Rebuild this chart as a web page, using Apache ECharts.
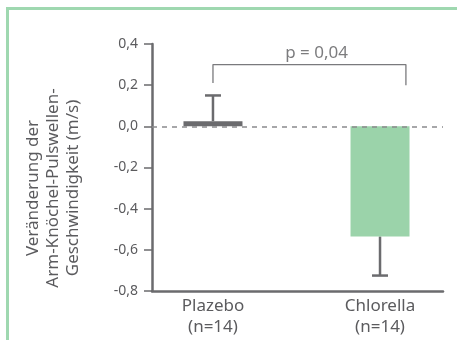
<!DOCTYPE html>
<html>
<head>
<meta charset="utf-8">
<script src="https://cdn.jsdelivr.net/npm/echarts@6/dist/echarts.min.js"></script>
<style>
html,body{margin:0;padding:0;background:#fff;}
#c{width:457px;height:340px;}
</style>
</head>
<body>
<div id="c"></div>
<script>
const categories = ['Plazebo\n(n=14)', 'Chlorella\n(n=14)'];
const categoryPositions = [1, 2];
const meanValues = [0.025, -0.535];
const errorEnds = [0.15, -0.725];
const barColors = ['#6b6b6e', '#9bd3aa'];
const yTicks = [-0.8, -0.6, -0.4, -0.2, 0.0, 0.2, 0.4];
const bracket = [[1, 0.21], [1, 0.3], [2.155, 0.3], [2.155, 0.2]];
const pLabel = 'p = 0,04';
const pLabelPos = [1.62, 0.3];

const FONT = 'Noto Sans';
const TXT = '#5b5b5e';
const AX = '#6b6b6e';

const chart = echarts.init(document.getElementById('c'));
chart.setOption({
  animation: false,
  backgroundColor: '#fff',
  grid: {left: 152, right: 14, top: 44, bottom: 49},
  xAxis: {
    type: 'value', min: 0.635, max: 2.377,
    splitLine: {show: false},
    axisLine: {show: true, onZero: false, lineStyle: {color: AX, width: 2.5}},
    axisTick: {show: false},
    axisLabel: {
      customValues: categoryPositions,
      formatter: v => categories[categoryPositions.indexOf(Math.round(v))] || '',
      color: TXT, fontFamily: FONT, fontSize: 17, lineHeight: 21, margin: 5
    }
  },
  yAxis: {
    type: 'value', min: -0.8, max: 0.4, interval: 0.2,
    splitLine: {show: false},
    axisLine: {show: true, lineStyle: {color: AX, width: 2.5}},
    axisTick: {show: true, length: 8, lineStyle: {color: AX, width: 1.5}},
    axisLabel: {
      color: TXT, fontFamily: FONT, fontSize: 14, margin: 14,
      formatter: v => v.toFixed(1).replace('.', ',').replace('-0,0', '0,0')
    }
  },
  graphic: [
    {type: 'rect', shape: {x: 7.5, y: 8.5, width: 470, height: 360}, style: {fill: 'none', stroke: '#9fd8b0', lineWidth: 3}, z: 100},
    {type: 'text', x: 53, y: 188, rotation: Math.PI / 2,
     style: {text: 'Veränderung der\nArm-Knöchel-Pulswellen-\nGeschwindigkeit (m/s)', align: 'center', verticalAlign: 'middle',
       fill: TXT, font: '17px ' + FONT, lineHeight: 20}}
  ],
  series: [
    {
      type: 'bar', barWidth: 59,
      data: categoryPositions.map((x, i) => ({value: [x, meanValues[i]], itemStyle: {color: barColors[i]}})),
      markLine: {
        silent: true, symbol: 'none', label: {show: false},
        lineStyle: {type: [5, 5], color: '#8a8a8d', width: 1.5},
        data: [{yAxis: 0}]
      },
      z: 2
    },
    {
      type: 'custom',
      data: categoryPositions.map((x, i) => [x, meanValues[i], errorEnds[i]]),
      renderItem: (params, api) => {
        const p0 = api.coord([api.value(0), api.value(1)]);
        const p1 = api.coord([api.value(0), api.value(2)]);
        const h = 8;
        return {type: 'group', children: [
          {type: 'line', shape: {x1: p0[0], y1: p0[1], x2: p1[0], y2: p1[1]}, style: {stroke: AX, lineWidth: 2.5}},
          {type: 'line', shape: {x1: p1[0] - h, y1: p1[1], x2: p1[0] + h, y2: p1[1]}, style: {stroke: AX, lineWidth: 2.5}}
        ]};
      },
      z: 1
    },
    {
      type: 'line', data: bracket, symbol: 'none',
      lineStyle: {color: '#7a7a7d', width: 1.3}, z: 3
    },
    {
      type: 'scatter', data: [pLabelPos], symbolSize: 0,
      label: {show: true, position: 'top', distance: 3, formatter: pLabel, color: TXT, fontFamily: FONT, fontSize: 17}
    }
  ]
});
</script>
</body>
</html>
